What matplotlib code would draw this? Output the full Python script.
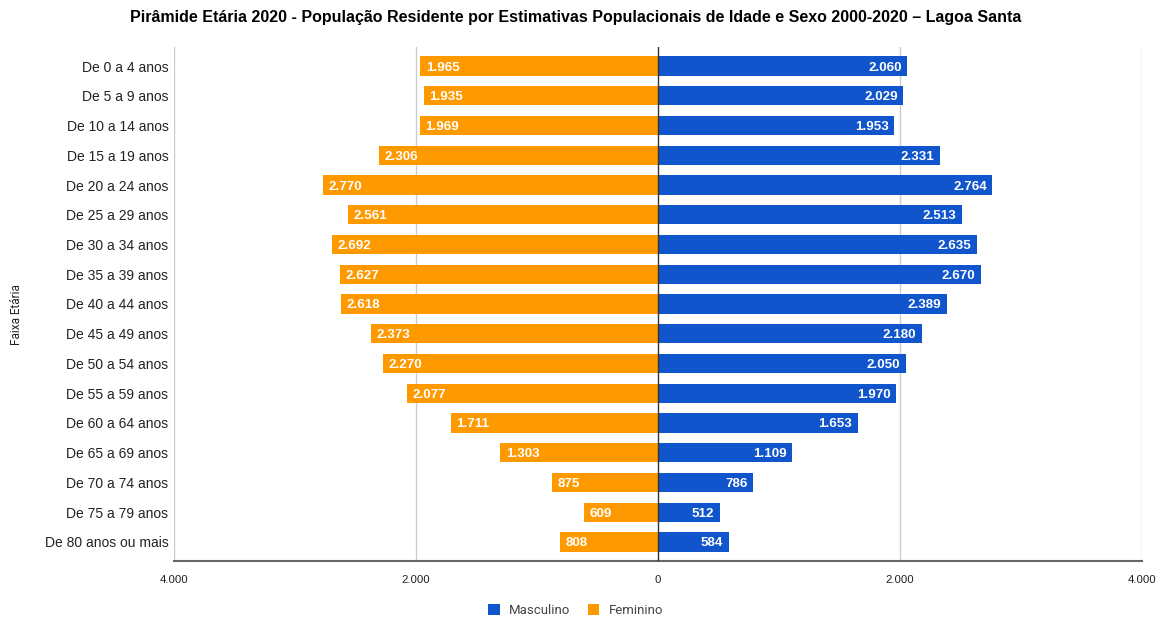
import matplotlib
matplotlib.use('Agg')
import matplotlib.pyplot as plt
from matplotlib.ticker import FuncFormatter

plt.rcParams['font.family'] = ['Liberation Sans', 'DejaVu Sans']

faixas = ['De 0 a 4 anos', 'De 5 a 9 anos', 'De 10 a 14 anos', 'De 15 a 19 anos',
          'De 20 a 24 anos', 'De 25 a 29 anos', 'De 30 a 34 anos', 'De 35 a 39 anos',
          'De 40 a 44 anos', 'De 45 a 49 anos', 'De 50 a 54 anos', 'De 55 a 59 anos',
          'De 60 a 64 anos', 'De 65 a 69 anos', 'De 70 a 74 anos', 'De 75 a 79 anos',
          'De 80 anos ou mais']
masculino = [2060, 2029, 1953, 2331, 2764, 2513, 2635, 2670, 2389, 2180,
             2050, 1970, 1653, 1109, 786, 512, 584]
feminino = [1965, 1935, 1969, 2306, 2770, 2561, 2692, 2627, 2618, 2373,
            2270, 2077, 1711, 1303, 875, 609, 808]

azul = '#1155cc'
laranja = '#ff9900'


def fmt(v):
    # separador de milhar com ponto
    return f'{int(abs(v)):,}'.replace(',', '.')


fig = plt.figure(figsize=(11.65, 6.17), dpi=100)
ax = fig.add_axes([0.1494, 0.0908, 0.8306, 0.833])

y = list(range(len(faixas)))
ax.barh(y, masculino, height=0.65, color=azul, label='Masculino', zorder=3)
ax.barh(y, [-f for f in feminino], height=0.65, color=laranja, label='Feminino', zorder=3)

for i in y:
    ax.text(masculino[i] - 45, i, fmt(masculino[i]), ha='right', va='center_baseline',
            color='white', fontsize=9.6, fontweight='bold', zorder=4)
    ax.text(-feminino[i] + 45, i, fmt(feminino[i]), ha='left', va='center_baseline',
            color='white', fontsize=9.6, fontweight='bold', zorder=4)

ax.set_xlim(-4000, 4000)
ax.set_ylim(len(faixas) - 0.36, -0.64)
ax.set_xticks([-4000, -2000, 0, 2000, 4000])
ax.xaxis.set_major_formatter(FuncFormatter(lambda v, p: fmt(v)))
ax.set_yticks(y)
ax.set_yticklabels(faixas)
ax.tick_params(axis='both', length=0, colors='#222222')
ax.tick_params(axis='x', pad=10, labelsize=8.2)
ax.tick_params(axis='y', pad=4, labelsize=10)

for g in [-4000, -2000, 2000, 4000]:
    ax.axvline(g, color='#cccccc', lw=1, zorder=1)
ax.axvline(0, color='#333333', lw=1, zorder=5)

for s in ['top', 'right', 'left']:
    ax.spines[s].set_visible(False)
ax.spines['bottom'].set_color('#666666')
ax.spines['bottom'].set_linewidth(1.5)

ax.set_ylabel('Faixa Etária', fontsize=8.5, color='#222222', family=['Roboto', 'DejaVu Sans'])
ax.yaxis.set_label_coords(-0.156, 0.48)

fig.text(0.494, 0.972,
         'Pirâmide Etária 2020 - População Residente por Estimativas Populacionais de Idade e Sexo 2000-2020 – Lagoa Santa',
         ha='center', va='center', fontsize=11.5, fontweight='bold', color='#000000')

fig.legend(loc='center', bbox_to_anchor=(0.494, 0.01), ncol=2, frameon=False,
           prop={'family': ['Roboto', 'DejaVu Sans'], 'size': 9.5}, labelcolor='#444444',
           handlelength=0.9, handleheight=0.9, columnspacing=1.3, handletextpad=0.7)

fig.savefig('out.png', dpi=100)
plt.close(fig)
